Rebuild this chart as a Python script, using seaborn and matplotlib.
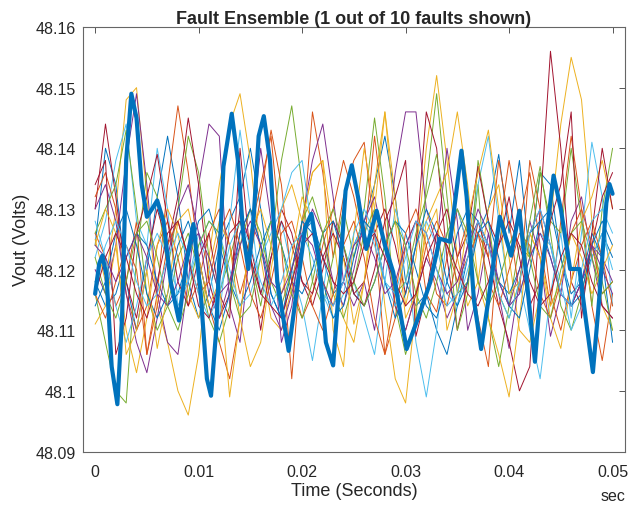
import matplotlib
matplotlib.use("Agg")
import matplotlib.pyplot as plt
import matplotlib.transforms as mtransforms
import numpy as np
import pandas as pd
import seaborn as sns

# ---- data --------------------------------------------------------------
# highlighted fault trace: time (s) and Vout (V)
fault_t = [0.0, 0.0004, 0.0007, 0.0011, 0.0016, 0.00215, 0.0026, 0.0030,
           0.0035, 0.0040, 0.0045, 0.0050, 0.0055, 0.0060, 0.0066, 0.0073,
           0.0081, 0.0088, 0.0095, 0.0102, 0.0108, 0.0112, 0.0117, 0.0124,
           0.0132, 0.0138, 0.0143, 0.0148, 0.0153, 0.0158, 0.0163, 0.0169,
           0.0176, 0.0187, 0.0196, 0.0203, 0.0209, 0.0216, 0.0223, 0.0230,
           0.0236, 0.0242, 0.0248, 0.0254, 0.0262, 0.0272, 0.0280, 0.0288,
           0.0301, 0.0312, 0.0324, 0.0333, 0.0343, 0.0354, 0.0359, 0.0366,
           0.0373, 0.0380, 0.0391, 0.0402, 0.0410, 0.0416, 0.0425, 0.0432,
           0.0443, 0.0450, 0.0459, 0.0468, 0.0474, 0.0481, 0.0487, 0.0494,
           0.0497, 0.0500]
fault_v = [48.116, 48.121, 48.1223, 48.119, 48.104, 48.0978, 48.112, 48.138,
           48.149, 48.145, 48.134, 48.1287, 48.130, 48.1314, 48.128, 48.118,
           48.1116, 48.121, 48.1275, 48.116, 48.102, 48.0992, 48.110, 48.137,
           48.1457, 48.138, 48.126, 48.1201, 48.128, 48.142, 48.1453, 48.138,
           48.118, 48.1066, 48.118, 48.127, 48.1292, 48.122, 48.108, 48.1042,
           48.118, 48.133, 48.1372, 48.132, 48.1234, 48.1297, 48.124, 48.1196,
           48.1069, 48.112, 48.118, 48.1251, 48.1246, 48.1396, 48.132, 48.115,
           48.1069, 48.115, 48.1287, 48.1223, 48.1297, 48.120, 48.1048, 48.120,
           48.1355, 48.130, 48.1201, 48.1201, 48.112, 48.1031, 48.115, 48.131,
           48.1341, 48.1325]

# ensemble traces, sampled every 1 ms, as deviation from 48.12 V in mV
grid_t = np.linspace(0, 0.05, 51)
nominal_v = 48.12

blue_1 = [4, 20, 14, -2, -10, 0, 12, 22, 12, -2, -8, -4, 4, 8, 12, 20, 10, -4, -8, -2,
          6, 8, 2, -4, -2, 4, 8, 14, 22, 12, -2, -6, -4, -10, -14, -6, 2, 6, 10, 19,
          6, 18, 2, 16, 14, 2, -4, -2, 2, 6, 2]
blue_2 = [-2, -6, -4, 2, 6, 4, -2, -6, -4, 2, 8, 10, 4, -2, -6, -2, 4, 8, 4, -2,
          -4, 0, 6, 8, 2, -4, -6, -2, 4, 8, 6, 0, -6, -8, -2, 6, 10, 8, 4, -2,
          -4, 0, 6, 8, 2, -4, -6, -2, 6, 2, -12]
blue_3 = [-6, -2, 6, 10, 4, -4, -8, -4, 4, 8, 2, -6, -10, -4, 6, 10, 4, -4, -8, 0,
          8, 6, -2, -8, -6, 2, 8, 6, -2, -8, -4, 4, 10, 6, -2, -6, -2, 6, 8, 2,
          -6, -8, 0, 8, 10, 2, -6, -4, 4, 8, 4]
orange_1 = [6, 2, -6, -2, 8, -14, -4, 14, 27, 16, 2, -6, -12, -18, -8, 6, 14, 22, 4, -18,
            4, 26, 16, 2, 12, 18, 21, 6, -14, -8, 4, 8, -4, -7, 2, 10, 4, -8, -16, 6,
            18, 8, 16, 4, -6, 8, 22, 10, -6, -15, -4]
orange_2 = [12, 16, 10, -4, -10, -6, 4, 8, 2, -6, -2, 6, 10, 4, -4, 2, 12, 23, 14, -2,
            -8, -4, 4, 10, 18, 12, 4, 22, 8, -6, -10, -4, 4, 8, 4, -2, 2, 6, 2, 18,
            8, -4, 18, 10, -4, -10, -2, 4, 8, 2, -6]
orange_3 = [-4, -8, -2, 4, 0, -14, -6, 4, 8, 2, -4, -2, 6, 10, 4, -4, -8, -2, 6, 8,
            2, -6, -10, -4, 4, 8, 2, -8, -14, -4, 6, 10, 4, -4, -6, 2, 8, 6, -2, -6,
            0, 6, 4, -4, -8, -2, 6, 10, 4, -4, -2]
yellow_1 = [5, -2, 10, 28, 30, 12, -6, -12, -20, -24, -14, 2, 14, 24, 29, 18, 2, -8, -10, -3,
            8, 16, 18, 6, -8, -12, -2, 14, 26, 12, -6, 2, 20, 32, 18, 2, -6, -2, 10, 14,
            2, -10, -12, -4, 8, 24, 35, 28, 8, -6, -10]
yellow_2 = [-9, -6, 4, -10, -17, -8, 4, 10, 6, -4, -8, 0, 8, 4, -8, -16, -12, 0, 10, 14,
            8, 16, 18, -10, -16, 6, 20, 10, -6, -18, -22, -6, 8, 12, 16, 26, 14, -2, -8, -14,
            -21, -8, 6, 2, -8, -13, -2, 8, 12, 18, 10]
yellow_3 = [4, 10, 6, -14, -10, 0, -13, -4, 8, 10, 2, -6, -2, -21, -8, 6, 10, 4, -4, 2,
            12, 8, -2, -6, 2, -9, -2, 10, 26, 8, -8, -4, 6, 10, -10, -4, 8, 16, 23, 10,
            -4, -2, 6, 2, -6, -2, 6, 2, -4, 0, 4]
purple_1 = [0, -4, 4, 18, 29, 14, -4, -12, -14, -2, 14, 24, 22, -6, -12, 4, 20, 8, -12, -6,
            8, 18, 24, 12, -2, -6, -2, -10, 2, 16, 26, 26, 10, 4, 20, 8, -10, -4, 6, -4,
            -13, -2, 8, 2, -11, -4, 8, 12, 2, -6, -8]
purple_2 = [10, 14, 8, -4, -12, -17, -8, 2, 10, 14, 6, -4, -8, -2, 6, 10, 4, -6, -10, -4,
            4, 10, 6, -2, -6, 0, 8, 12, 4, -6, -10, -4, 2, -2, -8, -4, 4, 10, 6, -2,
            -6, 0, 6, 10, 4, -4, -6, -2, 4, 2, -2]
purple_3 = [4, 2, -2, 2, 6, 2, -4, -6, -2, 4, 6, 2, -4, -2, 4, 8, 4, -2, -4, 0,
            6, 4, -2, -6, -2, 4, 6, 2, -4, -2, 4, 8, 6, 0, -4, -2, 4, 8, 4, -2,
            -6, -4, 2, 6, 2, -4, -6, -2, 4, 0, -4]
green_1 = [-4, -12, -20, -22, 2, 16, 12, 0, 10, 22, 16, 2, -4, 2, 8, 2, -6, 4, 18, 27,
           14, -2, -6, 2, 10, 2, 10, 25, 12, -6, -14, -8, 14, 29, 12, -4, -2, 14, -8, -16,
           -6, 4, 2, 16, 8, 6, 20, 8, -6, 10, 20]
green_2 = [6, 10, 14, 23, 10, -4, -10, -6, 2, 6, 0, -8, -12, -6, 4, 10, 6, -2, -6, 0,
           8, 12, 6, -4, -8, -2, 6, 10, 4, -4, -2, 6, 12, 19, 8, -10, -4, 18, 8, -4,
           -8, -2, 8, 17, 6, -6, -10, -4, 4, -2, -10]
green_3 = [2, -4, -8, -2, 6, 8, 2, -6, -10, -4, 4, 8, 6, -2, -8, -6, 2, 8, 4, -4,
           -8, -2, 6, 10, 4, -2, -6, -2, 4, 8, 4, -4, -8, -2, 6, 10, 6, -2, -6, -2,
           4, 8, 2, -6, -8, 0, 6, 8, 2, -4, -2]
cyan_1 = [2, 8, 18, 24, 8, 4, 20, 10, -6, -2, 6, 0, -8, 8, 23, 10, -4, 2, 8, 0,
          -6, -15, -4, 8, 4, -2, -8, -14, -2, 10, 4, -12, -21, -10, 6, 10, 4, 14, 22, 8,
          -4, -2, -10, -18, -4, 6, -8, 6, 21, 12, -6]
cyan_2 = [8, 2, -6, -12, -6, 2, 6, 2, -4, -2, 4, 8, 6, 0, -6, -4, 2, 6, 10, 16,
          18, 6, -4, -8, -4, 4, 8, 4, -2, -6, -2, 4, 8, 4, -4, -6, 0, 6, 4, -2,
          -6, -4, 2, 6, 4, -2, -10, -6, 2, 6, 0]
cyan_3 = [-2, 4, 8, 4, -2, -6, -4, 2, 6, 2, -4, -8, -4, 4, 8, 4, -2, -6, -2, 4,
          6, 2, -4, -6, -2, 6, 10, 6, -2, -4, 2, 8, 6, 0, -6, -4, 2, 8, 4, -4,
          -8, -2, 6, 10, 4, -4, -6, 0, 8, 10, 6]
red_1 = [10, 24, 12, -2, -8, 2, 10, 4, 12, 25, 14, -2, -8, -4, 10, 4, -4, 2, 10, 6,
         -2, -6, 0, 8, 4, -4, -2, 6, 10, 4, -4, 4, 26, 20, 2, -10, -2, 8, 2, -6,
         -12, -20, -16, 10, 36, 20, -2, -6, 4, 12, 16]
red_2 = [14, 18, -14, -8, 6, 12, 19, 8, -2, -6, 2, 6, -4, -8, 20, 2, -10, 2, 8, 4,
         -2, -4, 2, 6, 2, -4, -6, 0, 8, 12, 18, -11, -4, 6, 10, 2, 6, 17, 8, 4,
         12, 2, -6, -2, 8, 14, 26, -8, 6, 20, 10]
red_3 = [-4, 2, 6, 2, -4, -8, -2, 6, 8, 2, -6, -8, -2, 6, 8, 2, -4, -6, -8, -2,
         4, 6, 2, -2, -4, -2, 4, 6, 2, -2, -6, -4, 2, 6, 4, 0, -4, -6, -2, 4,
         8, 4, -2, -6, -4, 2, 6, 4, -2, -6, -8]

# MATLAB default line colours
colors = {"blue": "#0072BD", "orange": "#D95319", "yellow": "#EDB120",
          "purple": "#7E2F8E", "green": "#77AC30", "cyan": "#4DBEEE",
          "red": "#A2142F"}

traces = {
    "blue_1": blue_1, "orange_1": orange_1, "yellow_1": yellow_1,
    "purple_1": purple_1, "green_1": green_1, "cyan_1": cyan_1, "red_1": red_1,
    "blue_2": blue_2, "orange_2": orange_2, "yellow_2": yellow_2,
    "purple_2": purple_2, "green_2": green_2, "cyan_2": cyan_2, "red_2": red_2,
    "blue_3": blue_3, "orange_3": orange_3, "yellow_3": yellow_3,
    "purple_3": purple_3, "green_3": green_3, "cyan_3": cyan_3, "red_3": red_3,
}

x_ticks = [0, 0.01, 0.02, 0.03, 0.04, 0.05]
x_tick_labels = ["0", "0.01", "0.02", "0.03", "0.04", "0.05"]
y_ticks = [48.09, 48.10, 48.11, 48.12, 48.13, 48.14, 48.15, 48.16]
y_tick_labels = ["48.09", "48.1", "48.11", "48.12", "48.13", "48.14", "48.15", "48.16"]

# ---- long-form table for seaborn ----------------------------------------
frames = []
for name, dev in traces.items():
    frames.append(pd.DataFrame({
        "t": grid_t, "v": nominal_v + np.array(dev) / 1000.0, "trace": name
        }))
ensemble = pd.concat(frames, ignore_index = True)
palette = {name: colors[name.split("_")[0]] for name in traces}

# ---- plot ---------------------------------------------------------------
sns.set_theme(style = "white")
plt.rcParams["font.family"] = ["Liberation Sans", "DejaVu Sans"]
plt.rcParams["lines.solid_joinstyle"] = "round"
plt.rcParams["lines.solid_capstyle"] = "round"

fig = plt.figure(figsize = (6.28, 5.10), dpi = 100)
ax = fig.add_axes([0.1317, 0.1127, 0.8635, 0.8324])

sns.lineplot(
    data = ensemble, x = "t", y = "v", hue = "trace", palette = palette,
    estimator = None, sort = False, linewidth = 0.7, legend = False, ax = ax
    )
sns.lineplot(
    x = fault_t, y = fault_v, color = colors["blue"], linewidth = 3.0,
    estimator = None, sort = False, ax = ax
    )

ax.set_xlim(-0.0012, 0.0512)
ax.set_ylim(48.09, 48.16)
ax.set_xticks(x_ticks)
ax.set_xticklabels(x_tick_labels)
ax.set_yticks(y_ticks)
ax.set_yticklabels(y_tick_labels)

ax.tick_params(
    direction = "in", length = 4, width = 0.7, top = True, right = True,
    colors = "#555555", labelcolor = "#262626", labelsize = 11.5
    )
ax.tick_params(axis = "x", pad = 9)
ax.tick_params(axis = "y", pad = 5)
for spine in ax.spines.values():
    spine.set_color("#666666")
    spine.set_linewidth(0.8)

ax.set_xlabel("Time (Seconds)", fontsize = 13, color = "#262626", labelpad = 2)
ax.set_ylabel("Vout (Volts)", fontsize = 13, color = "#262626", labelpad = 4)
ax.set_title(
    "Fault Ensemble (1 out of 10 faults shown)", fontsize = 13,
    fontweight = "bold", pad = 3
    )

trans = mtransforms.blended_transform_factory(ax.transData, ax.transAxes)
ax.text(0.05, -0.103, "sec", transform = trans, ha = "center", va = "center",
        fontsize = 11.5, color = "#262626")

fig.savefig("out.png", dpi = 100)
